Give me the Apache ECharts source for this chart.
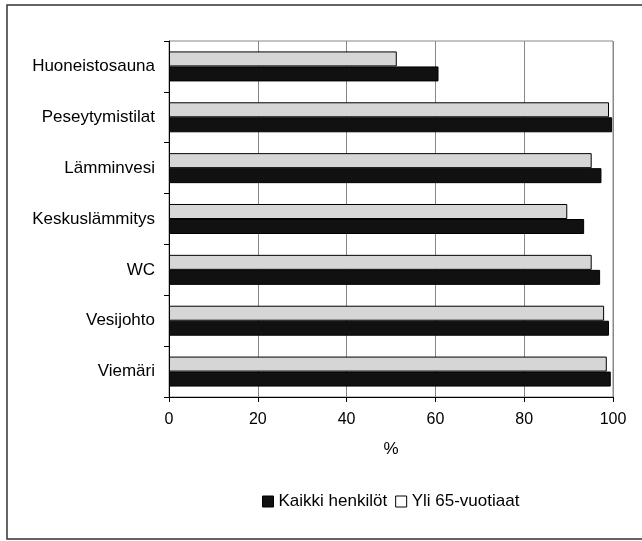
<!DOCTYPE html>
<html><head><meta charset="utf-8">
<script src="https://cdn.jsdelivr.net/npm/echarts@6/dist/echarts.min.js"></script>
<style>html,body{margin:0;padding:0;background:#fff}#c{width:642px;height:541px}</style>
</head><body><div id="c"></div>
<script>
const categories = ['Huoneistosauna','Peseytymistilat','Lämminvesi','Keskuslämmitys','WC','Vesijohto','Viemäri'];
const kaikki = [60.7, 99.8, 97.4, 93.5, 97.1, 99.1, 99.5];
const yli65 = [51.3, 99.1, 95.2, 89.7, 95.2, 98.0, 98.6];
const xTicks = [0, 20, 40, 60, 80, 100];
const seriesNames = ['Kaikki henkilöt', 'Yli 65-vuotiaat'];

const chart = echarts.init(document.getElementById('c'), null, {renderer:'canvas'});
const font = 'Liberation Sans, Arial, sans-serif';
chart.setOption({
  animation: false,
  backgroundColor: '#fff',
  graphic: [{type:'rect', shape:{x:7, y:5, width:640, height:534}, style:{fill:'none', stroke:'#333', lineWidth:1.5}, silent:true}],
  grid: {left:169, right:29, top:41, bottom:144, show:true, borderColor:'#888', borderWidth:1},
  legend: {
    top: 488, left: 257, itemWidth: 11, itemHeight: 11, itemGap: 8,
    textStyle: {fontFamily: font, fontSize: 17, color: '#000'},
    data: [
      {name: seriesNames[0], icon:'rect', itemStyle:{color:'#111', borderColor:'#000', borderWidth:1}},
      {name: seriesNames[1], icon:'rect', itemStyle:{color:'#fff', borderColor:'#000', borderWidth:1}}
    ]
  },
  xAxis: {
    type:'value', min:0, max:100, interval:20,
    name:'%', nameLocation:'middle', nameGap:44,
    nameTextStyle:{fontFamily:font, fontSize:17, color:'#000'},
    axisLine:{show:true, lineStyle:{color:'#000', width:1}},
    axisTick:{show:true, length:5, lineStyle:{color:'#000'}},
    axisLabel:{fontFamily:font, fontSize:16, color:'#000', margin:15, formatter: v => xTicks.includes(v) ? String(v) : ''},
    splitLine:{show:true, lineStyle:{color:'#888', width:1}}
  },
  yAxis: {
    type:'category', data:categories, inverse:true,
    axisLine:{show:true, lineStyle:{color:'#000', width:1}},
    axisTick:{show:true, length:5, inside:false, lineStyle:{color:'#000'}},
    axisLabel:{fontFamily:font, fontSize:17, color:'#000', margin:14},
    splitLine:{show:false}
  },
  series: [
    {name: seriesNames[1], type:'bar', data: yli65, barGap:'0%', barCategoryGap:'41%',
     itemStyle:{color:'#d6d6d6', borderColor:'#000', borderWidth:1}},
    {name: seriesNames[0], type:'bar', data: kaikki, barGap:'0%', barCategoryGap:'41%',
     itemStyle:{color:'#111', borderColor:'#000', borderWidth:1}}
  ]
});
</script></body></html>
